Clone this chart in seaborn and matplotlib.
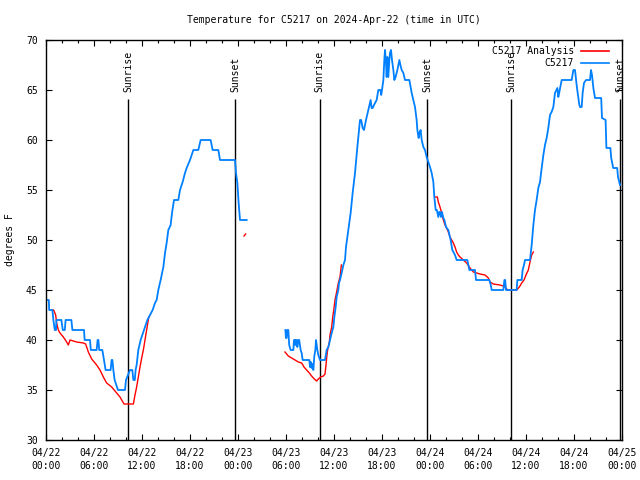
import matplotlib
matplotlib.use("Agg")
import matplotlib.pyplot as plt
from matplotlib.lines import Line2D
from matplotlib.ticker import MultipleLocator
import pandas as pd
import seaborn as sns

# ---- data (hours since 2024-04-22 00:00 UTC, degrees F) ----
obs_seg1_h = [0.17, 0.35, 0.4, 0.8, 0.92, 1.1, 1.25, 1.3, 1.92, 2.1, 2.35, 2.45, 3.17, 3.3, 4.75, 4.83,
              5.5, 5.6, 6.33, 6.45, 6.55, 6.65, 7.04, 7.25, 7.45, 8.08, 8.2, 8.3, 8.42, 8.58, 9.0, 9.875,
              10.0, 10.25, 10.5, 10.79, 10.92, 11.1, 11.2, 11.33, 11.54, 11.83, 12.125, 12.25, 12.67,
              13.0, 13.33, 13.625, 13.83, 14.04, 14.33, 14.67, 14.875, 15.08, 15.29, 15.58, 15.75, 16.0,
              16.54, 16.75, 17.08, 17.375, 17.58, 18.0, 18.42, 19.04, 19.33, 20.58, 20.83, 21.54, 21.75,
              23.625, 23.75, 23.92, 24.08, 24.25, 25.08]
obs_seg1_v = [44, 44, 43, 43, 42, 41, 41, 42, 42, 41, 41, 42, 42, 41, 41, 40,
              40, 39, 39, 40, 40, 39, 39, 38, 37, 37, 38, 38, 37, 36, 35, 35,
              36, 36.5, 37, 37, 36, 36, 37, 37.5, 39, 40, 40.7, 41, 42,
              42.5, 43, 43.7, 44, 45, 46, 47.3, 48.7, 49.7, 51, 51.5, 52.7, 54,
              54, 55, 55.8, 56.7, 57.2, 58, 59, 59, 60, 60, 59, 59, 58,
              58, 56.7, 55.7, 53.7, 52, 52]

obs_seg2_h = [29.92, 30.0, 30.08, 30.15, 30.29, 30.4, 30.58, 30.92, 31.0, 31.1, 31.17, 31.25, 31.35,
              31.42, 31.54, 31.65, 31.83, 31.96, 32.08, 32.92, 33.0, 33.1, 33.2, 33.3, 33.42, 33.54,
              33.67, 33.75, 33.92, 34.04, 34.25, 34.875, 35.08, 35.3, 35.5, 35.71, 35.92, 36.04, 36.21,
              36.33, 36.54, 36.625, 36.75, 36.96, 37.17, 37.375, 37.5, 37.79, 38.08, 38.33, 38.625,
              38.92, 39.17, 39.25, 39.4, 39.58, 39.75, 40.0, 40.29, 40.58, 40.7, 40.83, 41.0, 41.33,
              41.54, 41.8, 41.9, 42.0, 42.17, 42.29, 42.375, 42.5, 42.58, 42.67, 42.79, 42.92, 43.0,
              43.125, 43.25, 43.42, 43.54, 43.7, 43.92, 44.17, 44.3, 44.46, 44.67, 44.875, 45.42,
              45.58, 45.71, 45.92, 46.125, 46.33, 46.42, 46.58, 46.67, 46.83, 46.96, 47.17, 47.375,
              47.58, 47.79, 48.0, 48.21, 48.42, 48.54, 48.71, 48.85, 49.04, 49.15, 49.25, 49.375, 49.5,
              49.67, 49.8, 50.0, 50.29, 50.58, 50.79, 51.125, 51.33, 52.67, 52.8, 52.92, 53.625, 53.75,
              55.42, 55.6, 55.71, 57.17, 57.3, 57.4, 57.5, 58.83, 58.92, 59.46, 59.58, 59.75, 59.875,
              60.5, 60.71, 60.92, 61.125, 61.33, 61.54, 61.75, 61.96, 62.17, 62.375, 62.58, 62.79, 63.0,
              63.2, 63.42, 63.625, 63.92, 64.04, 64.17, 64.46, 65.71, 65.92, 66.125, 66.33, 66.46,
              66.67, 66.75, 66.96, 67.08, 67.25, 67.5, 68.0, 68.125, 68.25, 68.42, 68.625, 69.4, 69.5,
              69.95, 70.05, 70.55, 70.65, 70.9, 71.4, 71.5, 71.75]
obs_seg2_v = [41, 40.2, 40.2, 41, 41, 39.5, 39, 39, 40, 40, 39.5, 40, 40,
              39.3, 40, 40, 39, 38.7, 38, 38, 37.3, 37.8, 37.2, 37.6, 37, 38.4,
              39, 40, 39, 38.5, 38, 38, 39, 39.3, 40, 40.7, 41.3, 42.3, 43.3,
              44.3, 45, 45.7, 46, 46.7, 47.5, 48, 49.3, 51, 52.7, 54.7, 56.7,
              59.3, 61.3, 62, 62, 61.2, 61, 62, 63, 64, 63.2, 63.2, 63.5, 64,
              65, 65, 64.5, 65, 66, 68, 69, 67.7, 66.3, 68.3, 66.3, 68, 68.7,
              69, 68, 67, 66, 66.3, 67, 68, 67.5, 67, 66.7, 66, 66,
              65.3, 64.7, 64, 63.3, 62, 61, 60.2, 60.7, 61, 60, 59.3, 59,
              58.3, 57.8, 57.3, 56.7, 55.8, 54.3, 53, 53, 52.3, 52.8, 52.8, 52.3, 52.8,
              52.2, 52, 51.3, 51, 50, 49, 48.5, 48, 48, 47.5, 47, 47, 46,
              46, 45.5, 45, 45, 46, 46, 45, 45, 46, 46, 47, 47.5, 48,
              48, 49.5, 51.5, 53, 54, 55.2, 55.8, 57.2, 58.5, 59.5, 60.2, 61.2, 62.5,
              62.8, 63.3, 64.7, 65.2, 64.3, 64.8, 66, 66, 67, 67, 65.5, 64.7,
              63.5, 63.3, 63.3, 64.7, 65.7, 66, 66, 67, 66.5, 65.2, 64.2, 64.2, 62.2,
              62, 59.2, 59.2, 58.2, 57.2, 57.2, 56.3, 55.5]

ana_seg1_h = [0.85, 0.95, 1.21, 1.33, 1.54, 1.75, 2.17, 2.58, 2.79, 3.0, 3.83, 4.67, 4.96, 5.29, 5.71,
              6.33, 6.75, 7.17, 7.58, 8.21, 8.83, 9.25, 9.75, 10.92, 11.125, 11.33, 11.54, 11.75, 11.96,
              12.17, 12.375, 12.58, 12.79, 12.85]
ana_seg1_v = [43, 43, 42.5, 41.7, 41, 40.7, 40.3, 39.8, 39.5, 40, 39.8, 39.7, 39.6, 38.8, 38.1,
              37.5, 37, 36.3, 35.7, 35.3, 34.7, 34.3, 33.6, 33.6, 34.5, 35.3, 36.3, 37.3, 38.2,
              39, 40, 41, 42, 42.3]
ana_seg2_h = [24.75, 24.95]
ana_seg2_v = [50.4, 50.6]
ana_seg3_h = [29.875, 30.29, 30.71, 31.125, 31.54, 31.96, 32.25, 32.58, 32.92, 33.2, 33.54, 33.83, 34.04,
              34.33, 34.67, 34.875, 35.0, 35.08, 35.2, 35.42, 35.5, 35.71, 35.83, 36.0, 36.125, 36.33,
              36.54, 36.75, 36.92]
ana_seg3_v = [38.8, 38.4, 38.2, 38, 37.8, 37.7, 37.3, 37, 36.7, 36.4, 36.1, 35.9, 36.1,
              36.3, 36.4, 36.6, 37.5, 38.2, 39, 39.8, 40.5, 41.3, 42.2, 43.2, 44, 44.8,
              45.7, 46.3, 47.5]
ana_seg4_h = [48.625, 48.92, 49.04, 49.25, 49.46, 49.67, 49.875, 50.08, 50.29, 50.5, 50.71, 50.92, 51.125,
              51.33, 51.54, 51.75, 52.17, 52.58, 53.0, 53.42, 53.83, 54.25, 54.875, 55.29, 55.5, 55.92,
              56.75, 57.17, 57.375, 57.58, 57.79, 58.83, 59.17, 59.46, 59.75, 60.0, 60.17, 60.29, 60.5,
              60.71, 60.92]
ana_seg4_v = [54.3, 54.3, 53.8, 53.3, 52.7, 52, 51.5, 51.2, 50.8, 50.3, 50, 49.7, 49.3,
              48.8, 48.5, 48.3, 48, 47.7, 47.2, 46.8, 46.7, 46.6, 46.5, 46.2, 45.8, 45.6,
              45.5, 45.4, 45.3, 45.1, 45, 45, 45.3, 45.7, 46, 46.5, 46.8, 47.0, 47.8,
              48.5, 48.8]

sun_hours = [10.27, 23.67, 34.2, 47.67, 58.18, 71.75]
sun_labels = ["Sunrise", "Sunset", "Sunrise", "Sunset", "Sunrise", "Sunset"]

xtick_hours = list(range(0, 73, 6))
xtick_labels = ["04/22\n00:00", "04/22\n06:00", "04/22\n12:00", "04/22\n18:00",
                "04/23\n00:00", "04/23\n06:00", "04/23\n12:00", "04/23\n18:00",
                "04/24\n00:00", "04/24\n06:00", "04/24\n12:00", "04/24\n18:00",
                "04/25\n00:00"]
yticks = [30, 35, 40, 45, 50, 55, 60, 65, 70]

title = "Temperature for C5217 on 2024-Apr-22 (time in UTC)"
series_names = ["C5217 Analysis", "C5217"]
colors = ["#ff0000", "#0080ff"]

# ---- build tables ----
def frame(segs):
    rows = []
    for i, (hs, vs) in enumerate(segs):
        for h, v in zip(hs, vs):
            rows.append({"h": h, "v": v, "seg": i})
    return pd.DataFrame(rows)

obs = frame([(obs_seg1_h, obs_seg1_v), (obs_seg2_h, obs_seg2_v)])
ana = frame([(ana_seg1_h, ana_seg1_v), (ana_seg2_h, ana_seg2_v),
             (ana_seg3_h, ana_seg3_v), (ana_seg4_h, ana_seg4_v)])

plt.rcParams["font.family"] = ["DejaVu Sans Mono"]
plt.rcParams["font.size"] = 7

fig = plt.figure(figsize=(6.4, 4.8), dpi=100)
ax = fig.add_axes([46 / 640, 1 - 440 / 480, 576 / 640, 400 / 480])

sns.lineplot(data=ana, x="h", y="v", units="seg", estimator=None, color=colors[0],
             linewidth=1.0, legend=False, ax=ax, sort=False)
sns.lineplot(data=obs, x="h", y="v", units="seg", estimator=None, color=colors[1],
             linewidth=1.3, legend=False, ax=ax, sort=False)

for h, lab in zip(sun_hours, sun_labels):
    ax.vlines(h, 30, 64.1, color="black", linewidth=1.0, zorder=1)
    ax.text(h, 64.8, lab, rotation=90, ha="center", va="bottom", fontsize=7)

ax.set_xlim(0, 72)
ax.set_ylim(30, 70)
ax.set_xticks(xtick_hours)
ax.set_xticklabels(xtick_labels, linespacing=1.35)
ax.xaxis.set_minor_locator(MultipleLocator(2))
ax.set_yticks(yticks)
ax.set_yticklabels([str(y) for y in yticks])
ax.tick_params(which="both", direction="in", top=True, right=True, colors="black")
ax.tick_params(which="major", length=4.5, width=0.8, labelsize=7)
ax.tick_params(axis="x", which="major", pad=6)
ax.tick_params(axis="y", which="major", pad=6)
ax.tick_params(which="minor", length=2.5, width=0.8)
for s in ax.spines.values():
    s.set_linewidth(1.0)
    s.set_color("black")
ax.set_xlabel("")
ax.set_ylabel("")

fig.text(10 / 640, 0.5, "degrees F", rotation=90, ha="center", va="center", fontsize=7)
fig.text(334 / 640, 1 - 20 / 480, title, ha="center", va="center", fontsize=7)

handles = [Line2D([], [], color=c, linewidth=1.2) for c in colors]
ax.legend(handles, series_names, loc="upper right", frameon=False, markerfirst=False,
          bbox_to_anchor=(1 - 13 / 576, 1 - 6 / 400), borderaxespad=0, borderpad=0,
          handlelength=2.9, handletextpad=0.7, labelspacing=0.2, fontsize=7)

fig.savefig("out.png", dpi=100)
